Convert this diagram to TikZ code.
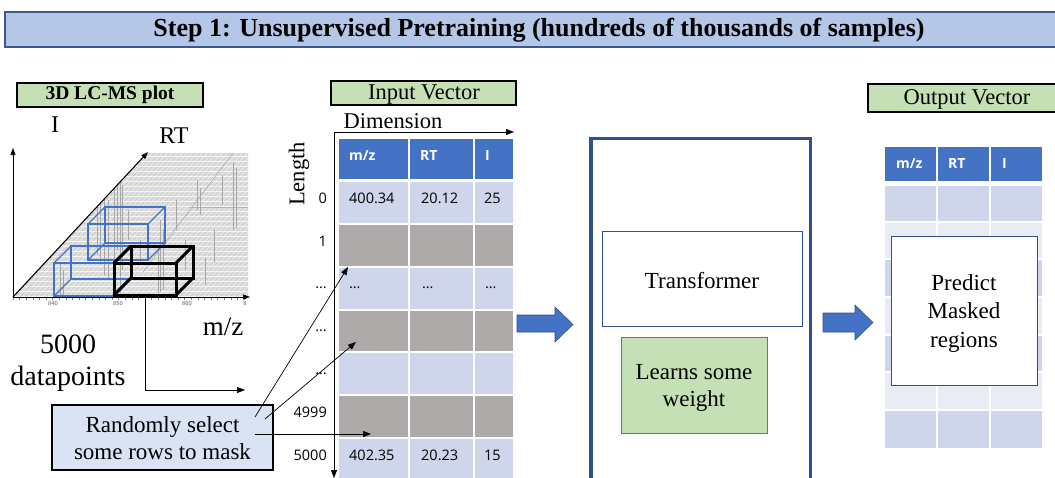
\documentclass[tikz,border=0pt]{standalone}
\usepackage{fontspec}
\setmainfont{Liberation Serif}
\newfontfamily\cellfont{Open Sans}
\usetikzlibrary{arrows.meta,fit,calc}
\definecolor{titlefill}{HTML}{B4C7E7}
\definecolor{titleline}{HTML}{3B5A8A}
\definecolor{labelgreen}{HTML}{C5E0B4}
\definecolor{hdrblue}{HTML}{4472C4}
\definecolor{rowblue}{HTML}{CFD5EA}
\definecolor{rowpale}{HTML}{E9EBF5}
\definecolor{maskgray}{HTML}{AEAAAA}
\definecolor{notefill}{HTML}{DAE3F3}
\definecolor{frameblue}{HTML}{2F528F}
\definecolor{wireblue}{HTML}{4472C4}

% wire-frame box: front face (x1,y1)-(x2,y2), back face shifted up-right
\newcommand\drawcuboid[5]{%
  \draw[#1] (#2,#3) rectangle (#4,#5);
  \draw[#1] (#2+17,#3-17) rectangle (#4+17,#5-17);
  \draw[#1] (#2,#3) -- (#2+17,#3-17) (#4,#3) -- (#4+17,#3-17)
            (#2,#5) -- (#2+17,#5-17) (#4,#5) -- (#4+17,#5-17);
}

\begin{document}
\begin{tikzpicture}[x=1pt,y=-1pt,
  txt/.style={inner sep=0pt, font=\fontsize{23}{28}\selectfont, align=center},
  tag/.style={draw=black, line width=1.6pt, fill=labelgreen, inner sep=0pt},
  cell/.style={inner sep=0pt, outer sep=0pt, draw=none},
  hdr/.style={inner sep=0pt, anchor=base west, text=white, font=\cellfont\bfseries\fontsize{14}{16}\selectfont},
  val/.style={inner sep=0pt, anchor=base west, font=\cellfont\fontsize{14.5}{16}\selectfont},
  idx/.style={inner sep=0pt, anchor=base east, font=\cellfont\fontsize{14.5}{16}\selectfont},
  link/.style={-{Triangle[length=8pt,width=6pt]}, line width=0.7pt, black},
  axis/.style={-{Triangle[length=7pt,width=5pt]}, line width=0.6pt, black},
  wire/.style={draw=wireblue, line width=1.1pt},
  wirebold/.style={draw=black, line width=3pt},
  blockarrow/.style={fill=hdrblue, draw=frameblue, line width=0.6pt},
]
\clip (0,0) rectangle (1055,477);
\fill[white] (0,0) rectangle (1055,477);

% ---------- banner ----------
\node[fit={(5,12) (1062,47)}, fill=titlefill, draw=titleline, line width=1.2pt, inner sep=0pt] (banner) {};
\node[inner sep=0pt, font=\bfseries\fontsize{26}{30}\selectfont] (bannertext) at (539,30)
  {Step 1: Unsupervised Pretraining (hundreds of thousands of samples)};

% ---------- LC-MS plot ----------
\node[tag, fit={(17,83) (203,107)}] (plottag) {};
\node[inner sep=0pt, font=\bfseries\fontsize{19.5}{22}\selectfont] (plottagtext) at (110,95) {3D LC-MS plot};

\begin{scope}
  \clip (13,297) -- (148,153) -- (248,153) -- (248,297) -- cycle;
  \fill[gray!24] (0,140) rectangle (260,300);
  \foreach \k in {-140,-135,...,250}
    \draw[gray!55, line width=0.3pt] (\k,297) -- (\k+135,153);
  \foreach \h in {156,161,...,296}
    \draw[white, line width=0.35pt, opacity=0.75] (0,\h) -- (260,\h);
  \draw[gray!70, line width=0.5pt] (143,272) -- (233,153);
  \draw[gray!60, line width=0.5pt] (190,207) -- (248,207);
  \foreach \px/\pt/\pb in {97/158/255, 100/165/262, 104/190/275, 108/200/280, 114/150/292,
      117/155/250, 120/160/293, 122/185/270, 158/245/293, 160/220/292, 163/230/290,
      176/200/230, 197/180/210, 200/188/215, 222/175/205, 233/162/230, 236/168/228,
      60/262/297, 63/270/297, 140/240/262, 205/258/285, 128/210/240, 185/240/270, 214/230/262}
    \draw[gray!70, line width=0.8pt] (\px,\pt) -- (\px,\pb);
\end{scope}

\foreach \t in {0,...,35}
  \draw[gray, line width=0.3pt] (13+\t*6.6,297) -- ++(0,2.5);
\foreach \tx/\tl in {53/840, 118/850, 187/860, 245/8}
  \node[inner sep=0pt, font=\sffamily\fontsize{6}{6}\selectfont, text=gray!70!black] at (\tx,304) {\tl};

\drawcuboid{wire}{54}{263}{114}{296}
\drawcuboid{wire}{88}{224}{148}{260}
\drawcuboid{wirebold}{114}{263}{176}{295}

\coordinate (origin) at (13,297);
\coordinate (iaxis) at (13,148);
\coordinate (mzaxis) at (250,297);
\coordinate (rtaxis) at (148,152);
\draw[axis] (origin) -- (iaxis);
\draw[axis] (origin) -- (mzaxis);
\draw[axis, line width=1.1pt] (origin) -- (rtaxis);

\node[inner sep=0pt, font=\fontsize{24}{28}\selectfont] (ilabel) at (55,125) {I};
\node[inner sep=0pt, font=\fontsize{24}{28}\selectfont] (rtlabel) at (174,136) {RT};
\node[inner sep=0pt, font=\fontsize{27}{30}\selectfont, anchor=base] (mzlabel) at (223,335) {m/z};
\node[inner sep=0pt, font=\fontsize{28}{32}\selectfont, align=center, anchor=base] (count) at (68,385)
  {5000\\datapoints};

% ---------- input vector ----------
\node[tag, fit={(331,81) (516,105)}] (intag) {};
\node[txt, font=\fontsize{22.5}{26}\selectfont] (intagtext) at (424,95) {Input Vector};
\node[txt, font=\fontsize{22.5}{26}\selectfont] (dimlabel) at (393,121) {Dimension};
\node[txt, font=\fontsize{22.5}{26}\selectfont, rotate=90] (lenlabel) at (299,174) {Length};

\foreach \c/\xa/\xb in {1/339/408, 2/410/473, 3/475/513} {
  \node[cell, fill=hdrblue, fit={(\xa,139) (\xb,179)}] (in-h-\c) {};
  \foreach \r/\ya/\yb/\col in {0/182/223/rowblue, 1/225/266/maskgray, 2/268/309/rowblue,
      3/311/351/maskgray, 4/353/394/rowblue, 5/396/437/maskgray, 6/439/480/rowblue}
    \node[cell, fill=\col, fit={(\xa,\ya) (\xb,\yb)}] (in-\r-\c) {};
}
\node[hdr] at (349,160) {m/z};
\node[hdr] at (420,160) {RT};
\node[hdr] at (485,160) {I};
\node[val] at (349,203) {400.34};
\node[val] at (421,203) {20.12};
\node[val] at (484,203) {25};
\node[val] at (349,288) {…};
\node[val] at (422,288) {…};
\node[val] at (485,288) {…};
\node[val] at (349,460) {402.35};
\node[val] at (421,460) {20.23};
\node[val] at (484,460) {15};
\foreach \lab/\yb in {0/203, 1/246, …/288, …/331, …/374, 4999/417, 5000/460}
  \node[idx] at (327,\yb) {\lab};

\coordinate (dimorigin) at (334,132);
\coordinate (dimend) at (514,132);
\coordinate (lenend) at (334,478);
\draw[link] (dimorigin) -- (dimend);
\draw[link] (dimorigin) -- (lenend);

% ---------- masking note ----------
\node[fit={(52,405) (273,470)}, fill=notefill, draw=black, line width=1.6pt, inner sep=0pt] (note) {};
\node[txt, font=\fontsize{23}{27}\selectfont] (notetext) at (162.5,438) {Randomly select\\some rows to mask};

\coordinate (s1) at (255,417);
\coordinate (s2) at (265,419);
\coordinate (s3) at (255,434);
\coordinate (t1) at (348,267);
\coordinate (t2) at (356,342);
\coordinate (t3) at (371,434);
\draw[link] (s1) -- (t1);
\draw[link] (s2) -- (t2);
\draw[link] (s3) -- (t3);

\coordinate (cubefoot) at (145,297);
\coordinate (cubetarget) at (245,390);
\draw[link] (cubefoot) |- (cubetarget);

% ---------- block arrows ----------
\fill[blockarrow] (517,315) -- (555,315) -- (555,307) -- (573,324.5) -- (555,342) -- (555,332) -- (517,332) -- cycle;
\fill[blockarrow] (823,313) -- (855,313) -- (855,305) -- (873,322.5) -- (855,340) -- (855,332) -- (823,332) -- cycle;

% ---------- encoder ----------
\node[fit={(591,138.5) (810.5,500)}, draw=frameblue, line width=3.5pt, inner sep=0pt] (encoder) {};
\node[fit={(602,231) (802,326)}, draw=frameblue, line width=1pt, inner sep=0pt] (tfbox) {};
\node[txt] (tftext) at (702,281) {Transformer};
\node[fit={(621,337) (767,433)}, fill=labelgreen, draw=frameblue!80, line width=1pt, inner sep=0pt] (weightbox) {};
\node[txt, font=\fontsize{23}{27}\selectfont] (weighttext) at (694,388) {Learns some\\weight};

% ---------- output vector ----------
\node[tag, fit={(868,84) (1060,112)}] (outtag) {};
\node[txt, font=\fontsize{22.5}{26}\selectfont] (outtagtext) at (967,99) {Output Vector};

\foreach \c/\xa/\xb in {1/885/936, 2/938/989, 3/991/1042} {
  \node[cell, fill=hdrblue, fit={(\xa,147) (\xb,181)}] (out-h-\c) {};
  \foreach \r/\ya/\yb/\col in {1/186/221/rowblue, 2/223/258/rowpale, 3/260/296/rowblue,
      4/298/334/rowpale, 5/336/371/rowblue, 6/373/409/rowpale, 7/411/448/rowblue}
    \node[cell, fill=\col, fit={(\xa,\ya) (\xb,\yb)}] (out-\r-\c) {};
}
\node[hdr] at (896,168) {m/z};
\node[hdr] at (948,168) {RT};
\node[hdr] at (1002,168) {I};

\node[fit={(891,236) (1037,385)}, fill=white, draw=frameblue, line width=1pt, inner sep=0pt] (predbox) {};
\node[txt, font=\fontsize{23}{28.5}\selectfont] (predtext) at (964,313) {Predict\\Masked\\regions};

\end{tikzpicture}
\end{document}
